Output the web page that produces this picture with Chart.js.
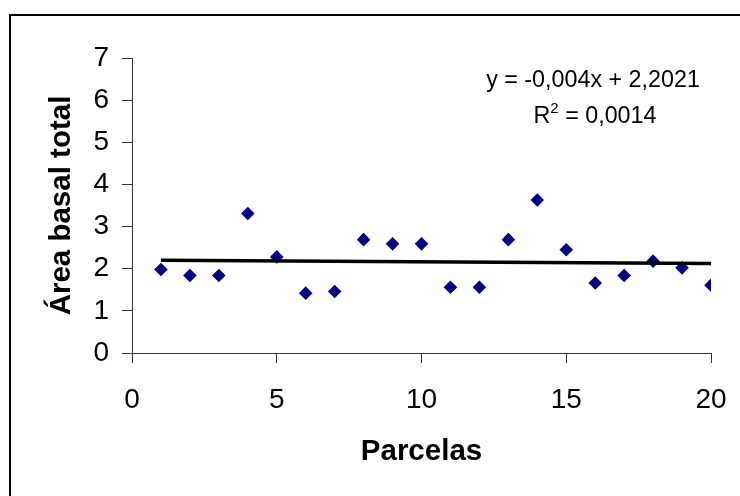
<!DOCTYPE html>
<html>
<head>
<meta charset="utf-8">
<script src="https://cdn.jsdelivr.net/npm/chart.js@4"></script>
<style>
  html, body { margin: 0; padding: 0; background: #ffffff; overflow: hidden; }
  #wrap { position: relative; width: 740px; height: 496px; }
  #frame { position: absolute; left: 9px; top: 14px; width: 800px; height: 600px;
           border-left: 2px solid #000; border-top: 2px solid #000; }
  canvas { position: absolute; left: 0; top: 0; }
</style>
</head>
<body>
<div id="wrap">
  <div id="frame"></div>
  <canvas id="c" width="740" height="496"></canvas>
</div>
<script>
// ---- data ----
const parcelas = [1, 2, 3, 4, 5, 6, 7, 8, 9, 10, 11, 12, 13, 14, 15, 16, 17, 18, 19, 20];
const areaBasal = [1.98, 1.84, 1.84, 3.31, 2.28, 1.42, 1.46, 2.69, 2.59, 2.59,
                   1.56, 1.56, 2.69, 3.63, 2.45, 1.66, 1.84, 2.18, 2.02, 1.61];
const trendSlope = -0.004;
const trendIntercept = 2.2021;
const trendR2 = 0.0014;
const xTicks = [0, 5, 10, 15, 20];
const yTicks = [0, 1, 2, 3, 4, 5, 6, 7];
const xTitle = 'Parcelas';
const yTitle = 'Área basal total';

const FONT = '"Liberation Sans", Arial, sans-serif';
const fmt = v => String(v).replace('.', ',');

const points = parcelas.map((x, i) => ({ x: x, y: areaBasal[i] }));
const xFirst = parcelas[0], xLast = parcelas[parcelas.length - 1];
const trendPoints = [
  { x: xFirst, y: trendIntercept + trendSlope * xFirst },
  { x: xLast,  y: trendIntercept + trendSlope * xLast }
];

const equationPlugin = {
  id: 'equation',
  afterDatasetsDraw(chart) {
    const ctx = chart.ctx;
    const a = chart.chartArea;
    const cx = a.right - 118;
    ctx.save();
    ctx.fillStyle = '#000';
    ctx.textBaseline = 'alphabetic';
    ctx.font = '23.3px ' + FONT;
    const line1 = 'y = ' + fmt(trendSlope) + 'x + ' + fmt(trendIntercept);
    ctx.textAlign = 'center';
    ctx.fillText(line1, cx, a.top + 29);
    // second line with superscript
    ctx.textAlign = 'left';
    const partR = 'R';
    const partRest = ' = ' + fmt(trendR2);
    ctx.font = '23.3px ' + FONT;
    const wR = ctx.measureText(partR).width;
    const wRest = ctx.measureText(partRest).width;
    ctx.font = '15px ' + FONT;
    const wSup = ctx.measureText('2').width;
    const total = wR + wSup + wRest;
    let x = cx + 2 - total / 2;
    const base2 = a.top + 64.5;
    ctx.font = '23.3px ' + FONT;
    ctx.fillText(partR, x, base2);
    x += wR;
    ctx.font = '15px ' + FONT;
    ctx.fillText('2', x, base2 - 10);
    x += wSup;
    ctx.font = '23.3px ' + FONT;
    ctx.fillText(partRest, x, base2);
    ctx.restore();
  }
};

new Chart(document.getElementById('c'), {
  type: 'scatter',
  data: {
    datasets: [
      {
        label: 'Área basal',
        data: points,
        pointStyle: 'rectRot',
        pointRadius: 6.8,
        pointHoverRadius: 6.8,
        backgroundColor: '#000080',
        borderColor: '#000080',
        borderWidth: 0,
        order: 1
      },
      {
        type: 'line',
        label: 'Tendencia',
        data: trendPoints,
        borderColor: '#000',
        borderWidth: 3.5,
        pointRadius: 0,
        fill: false,
        order: 0
      }
    ]
  },
  plugins: [equationPlugin],
  options: {
    responsive: false,
    animation: false,
    devicePixelRatio: 1,
    layout: { padding: { left: 0, top: 58, right: 29, bottom: 0 } },
    plugins: { legend: { display: false }, tooltip: { enabled: false } },
    scales: {
      x: {
        type: 'linear',
        min: xTicks[0],
        max: xTicks[xTicks.length - 1],
        afterBuildTicks(scale) { scale.ticks = xTicks.map(v => ({ value: v })); },
        afterFit(scale) { scale.height = 143; scale.paddingLeft = 0; scale.paddingRight = 0; },
        ticks: { color: '#000', font: { family: FONT, size: 28 }, padding: 20, maxRotation: 0 },
        grid: { drawOnChartArea: false, drawTicks: true, tickLength: 10, color: '#333', tickColor: '#333' },
        border: { display: true, color: '#333', width: 1 },
        title: { display: true, text: xTitle, color: '#000',
                 font: { family: FONT, size: 29.5, weight: 'bold' }, padding: { top: 0, bottom: 26 } }
      },
      y: {
        type: 'linear',
        min: yTicks[0],
        max: yTicks[yTicks.length - 1],
        afterBuildTicks(scale) { scale.ticks = yTicks.map(v => ({ value: v })); },
        afterFit(scale) { scale.width = 132; },
        ticks: { color: '#000', font: { family: FONT, size: 28 }, padding: 13 },
        grid: { drawOnChartArea: false, drawTicks: true, tickLength: 10, color: '#333', tickColor: '#333' },
        border: { display: true, color: '#333', width: 1 },
        title: { display: true, text: yTitle, color: '#000',
                 font: { family: FONT, size: 29.5, weight: 'bold' }, padding: { top: 44, bottom: 0 } }
      }
    }
  }
});
</script>
</body>
</html>
